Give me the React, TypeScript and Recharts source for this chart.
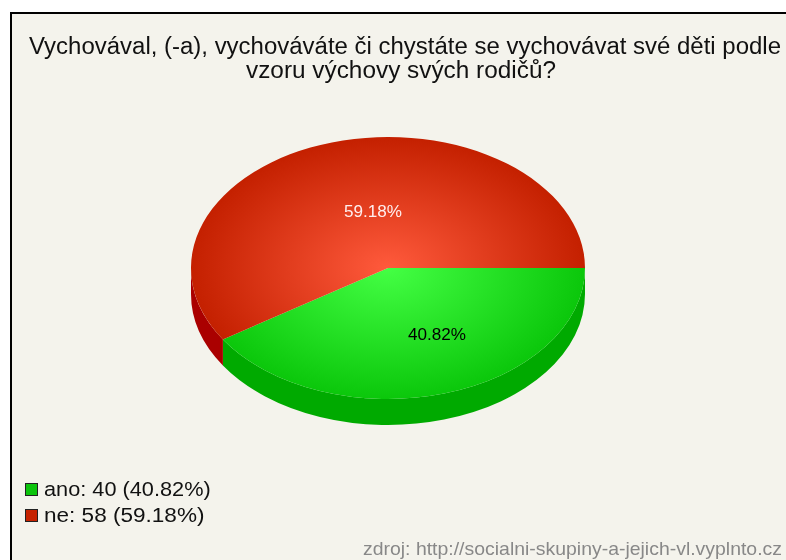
import React from "react";
import { PieChart, Pie, Legend } from "recharts";

const categories = ["ano", "ne"];
const values = [40, 58];
const percents = ["40.82%", "59.18%"];
const legendColors = ["#0cc40c", "#c62200"];
const titleLines = [
  "Vychovával, (-a), vychováváte či chystáte se vychovávat své děti podle",
  "vzoru výchovy svých rodičů?",
];
const sourceText = "zdroj: http://socialni-skupiny-a-jejich-vl.vyplnto.cz";

const pieData = categories.map((name, i) => ({ name, value: values[i], fill: legendColors[i] }));

const FONT = "'Liberation Sans', Arial, sans-serif";
const CX = 388;
const CY = 268;
const RX = 197;
const SQUASH = 0.665;
const DEPTH = 26;
const wallColors = ["#00aa00", "#aa0000"];
const gradIds = ["gradGreen", "gradRed"];
const labelColors = ["#000000", "#ffeeee"];
const labelShift = [
  [49, 66],
  [-15, -57],
];
const titleWidths = [752, 310];
const titleCenters = [405, 401];
const legendStretch = [1.06, 1.1];

const pt = (cx: number, cy: number, r: number, deg: number) => {
  const a = (deg * Math.PI) / 180;
  return [cx + r * Math.cos(a), cy - r * SQUASH * Math.sin(a)];
};

const EllipticSector = (props: any) => {
  const { cx, cy, outerRadius: r, startAngle, endAngle, index } = props;
  const ry = r * SQUASH;
  const [sx, sy] = pt(cx, cy, r, startAngle);
  const [ex, ey] = pt(cx, cy, r, endAngle);
  const large = Math.abs(endAngle - startAngle) > 180 ? 1 : 0;
  const top = `M${cx},${cy}L${sx},${sy}A${r},${ry} 0 ${large} 1 ${ex},${ey}Z`;

  const wStart = Math.max(startAngle, -180);
  const wEnd = Math.max(endAngle, -180);
  let wall = null;
  if (wStart > wEnd) {
    const [ax, ay] = pt(cx, cy, r, wStart);
    const [bx, by] = pt(cx, cy, r, wEnd);
    wall = `M${ax},${ay}A${r},${ry} 0 0 1 ${bx},${by}L${bx},${by + DEPTH}A${r},${ry} 0 0 0 ${ax},${ay + DEPTH}Z`;
  }
  return (
    <g>
      {wall && <path d={wall} fill={wallColors[index]} />}
      <path d={top} fill={`url(#${gradIds[index]})`} />
    </g>
  );
};

const renderLabel = (props: any) => {
  const { cx, cy, index } = props;
  const [dx, dy] = labelShift[index];
  return (
    <text
      x={cx + dx}
      y={cy + dy}
      textAnchor="middle"
      dominantBaseline="central"
      fontFamily={FONT}
      fontSize={16}
      textLength={58}
      lengthAdjust="spacingAndGlyphs"
      fill={labelColors[index]}
    >
      {percents[index]}
    </text>
  );
};

const LegendContent = () => (
  <div style={{ fontFamily: FONT, fontSize: 20.5, color: "#111", lineHeight: "26px" }}>
    {categories.map((c, i) => (
      <div key={c} style={{ display: "flex", alignItems: "center", height: 26 }}>
        <span
          style={{
            display: "inline-block",
            flex: "none",
            width: 11,
            height: 11,
            background: legendColors[i],
            border: "1px solid #222",
            marginRight: 6,
          }}
        />
        <span style={{ display: "inline-block", whiteSpace: "nowrap", transform: `scaleX(${legendStretch[i]})`, transformOrigin: "left center" }}>
          {`${c}: ${values[i]} (${percents[i]})`}
        </span>
      </div>
    ))}
  </div>
);

export default function App() {
  return (
    <div style={{ position: "absolute", left: 0, top: 0, width: 786, height: 560, background: "#fff", overflow: "hidden", filter: "blur(0.4px)" }}>
      <div
        style={{
          position: "absolute",
          left: 10,
          top: 12,
          width: 790,
          height: 560,
          background: "#f4f3ec",
          borderLeft: "2px solid #000",
          borderTop: "2px solid #000",
        }}
      />
      <div style={{ position: "absolute", left: 0, top: 0 }}>
        <PieChart width={786} height={560} margin={{ top: 0, right: 0, bottom: 0, left: 0 }}>
          <defs>
            <radialGradient
              id="gradGreen"
              gradientUnits="userSpaceOnUse"
              cx={0}
              cy={0}
              r={1}
              gradientTransform={`translate(${CX} ${CY}) scale(${RX} ${RX * SQUASH})`}
            >
              <stop offset="0%" stopColor="#44ff44" />
              <stop offset="100%" stopColor="#0bc70b" />
            </radialGradient>
            <radialGradient
              id="gradRed"
              gradientUnits="userSpaceOnUse"
              cx={0}
              cy={0}
              r={1}
              gradientTransform={`translate(${CX} ${CY}) scale(${RX} ${RX * SQUASH})`}
            >
              <stop offset="0%" stopColor="#ff5a3c" />
              <stop offset="100%" stopColor="#c42000" />
            </radialGradient>
          </defs>
          {titleLines.map((t, i) => (
            <text
              key={i}
              x={titleCenters[i]}
              y={54 + i * 24}
              textAnchor="middle"
              fontFamily={FONT}
              fontSize={23.5}
              textLength={titleWidths[i]}
              lengthAdjust="spacingAndGlyphs"
              fill="#111"
            >
              {t}
            </text>
          ))}
          <text
            x={782}
            y={555}
            textAnchor="end"
            fontFamily={FONT}
            fontSize={18.5}
            textLength={419}
            lengthAdjust="spacingAndGlyphs"
            fill="#888"
          >
            {sourceText}
          </text>
          <Pie
            data={pieData}
            dataKey="value"
            nameKey="name"
            cx={CX}
            cy={CY}
            innerRadius={0}
            outerRadius={RX}
            startAngle={0}
            endAngle={-360}
            stroke="none"
            isAnimationActive={false}
            shape={EllipticSector}
            label={renderLabel}
            labelLine={false}
          />
          <Legend
            layout="vertical"
            content={<LegendContent />}
            wrapperStyle={{ position: "absolute", left: 25, top: 476, width: 300, height: 52 }}
          />
        </PieChart>
      </div>
    </div>
  );
}
